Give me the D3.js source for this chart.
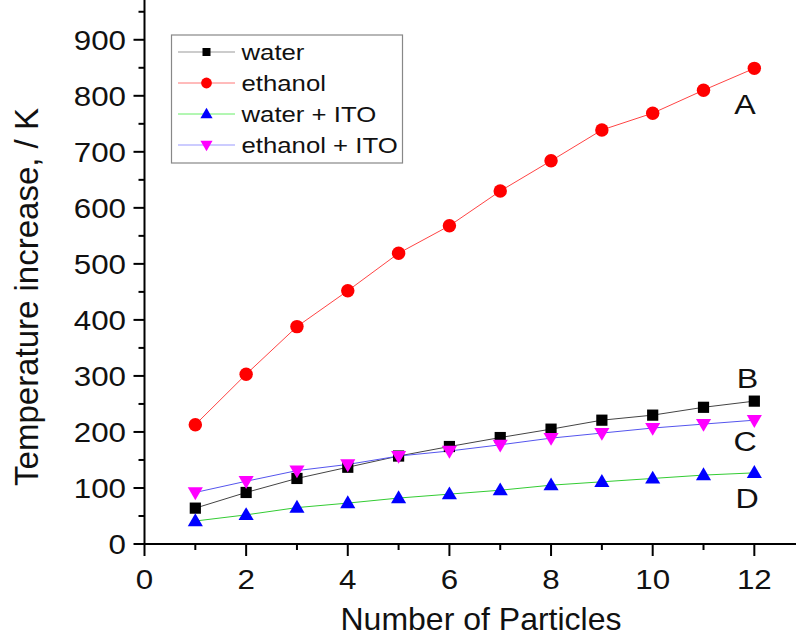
<!DOCTYPE html>
<html><head><meta charset="utf-8">
<script src="https://cdn.jsdelivr.net/npm/d3@7"></script>
<style>html,body{margin:0;padding:0;background:#fff;}svg{display:block;font-family:"Liberation Sans",Arial,sans-serif;}</style>
</head><body>
<script>
const particles = [1,2,3,4,5,6,7,8,9,10,11,12];
const water = [64,92,117,137,157,174,190,205,221,230,244,255];
const ethanol = [213,303,388,452,519,568,630,684,739,769,810,849];
const waterITO = [41,52,65,73,82,89,96,105,111,117,123,127];
const ethanolITO = [92,112,131,142,157,166,177,189,198,207,214,221];
const seriesNames = ["water","ethanol","water + ITO","ethanol + ITO"];
const curveLabels = ["A","B","C","D"];
const xTicks = [0,2,4,6,8,10,12];
const yTicks = [0,100,200,300,400,500,600,700,800,900];

const W=796,H=638;
const svg=d3.select("body").append("svg").attr("width",W).attr("height",H);
const x=d3.scaleLinear().domain([0,12.82]).range([144.5,796]);
const y=d3.scaleLinear().domain([0,971]).range([544,0]);

const series=[
 {name:seriesNames[0],vals:water,line:"#444",lline:"#999",fill:"#000",shape:"square"},
 {name:seriesNames[1],vals:ethanol,line:"#f44",lline:"#f77",fill:"#f00",shape:"circle"},
 {name:seriesNames[2],vals:waterITO,line:"#3c3",lline:"#6e6",fill:"#00f",shape:"up"},
 {name:seriesNames[3],vals:ethanolITO,line:"#55e",lline:"#99f",fill:"#f0f",shape:"down"}
];

function marker(g,shape,cx,cy,s,fill){
  if(shape==="square") g.append("rect").attr("x",cx-s/2).attr("y",cy-s/2).attr("width",s).attr("height",s).attr("fill",fill);
  else if(shape==="circle") g.append("circle").attr("cx",cx).attr("cy",cy).attr("r",s*0.6).attr("fill",fill);
  else if(shape==="up"){const h=s*1.15,w=s*1.35;g.append("path").attr("d",`M${cx},${cy-h*0.6}L${cx+w/2},${cy+h*0.4}L${cx-w/2},${cy+h*0.4}Z`).attr("fill",fill);}
  else {const h=s*1.15,w=s*1.35;g.append("path").attr("d",`M${cx},${cy+h*0.6}L${cx+w/2},${cy-h*0.4}L${cx-w/2},${cy-h*0.4}Z`).attr("fill",fill);}
}
function stext(g,tx,ty,sx,size,anchor,str){
  g.append("text").attr("transform",`translate(${tx},${ty}) scale(${sx},1)`)
   .attr("text-anchor",anchor).attr("dy","0.36em").attr("font-size",size).attr("fill","#111").text(str);
}

// lines
series.forEach(s=>{
  const line=d3.line().x((d,i)=>x(particles[i])).y(d=>y(d));
  svg.append("path").datum(s.vals).attr("d",line).attr("fill","none").attr("stroke",s.line).attr("stroke-width",1);
});
// markers
series.forEach(s=>{
  const g=svg.append("g");
  s.vals.forEach((v,i)=>marker(g,s.shape,x(particles[i]),y(v),11.2,s.fill));
});

// axes
const ax=svg.append("g");
ax.append("line").attr("x1",x(0)).attr("x2",W).attr("y1",y(0)).attr("y2",y(0)).attr("stroke","#000").attr("stroke-width",2);
ax.append("line").attr("x1",x(0)).attr("x2",x(0)).attr("y1",y(0)+1).attr("y2",0).attr("stroke","#000").attr("stroke-width",2);
d3.range(0,13).forEach(t=>{
  const major=t%2===0;
  ax.append("line").attr("x1",x(t)).attr("x2",x(t)).attr("y1",y(0)).attr("y2",y(0)+(major?12:6)).attr("stroke","#000").attr("stroke-width",2);
});
xTicks.forEach(t=>stext(ax,x(t),579.5,1.16,27,"middle",t));
d3.range(0,951,50).forEach(t=>{
  const major=t%100===0;
  ax.append("line").attr("x1",x(0)).attr("x2",x(0)-(major?11:6)).attr("y1",y(t)).attr("y2",y(t)).attr("stroke","#000").attr("stroke-width",2);
});
yTicks.forEach(t=>stext(ax,126,y(t),1.16,27,"end",t));

svg.append("text").attr("x",481).attr("y",630).attr("text-anchor","middle").attr("font-size",32).attr("fill","#111").text("Number of Particles");
svg.append("text").attr("transform","translate(38,297) rotate(-90)").attr("text-anchor","middle").attr("font-size",33).attr("fill","#111").text("Temperature increase, / K");

// curve labels
const lab=[[745,104],[747.5,378],[745,441],[747,498]];
curveLabels.forEach((c,i)=>stext(svg,lab[i][0],lab[i][1],1.15,28,"middle",c));

// legend
const lg=svg.append("g");
lg.append("rect").attr("x",171.5).attr("y",35).attr("width",231).attr("height",128).attr("fill","#fff").attr("stroke","#888").attr("stroke-width",1.2);
series.forEach((s,i)=>{
  const yy=52+i*31;
  lg.append("line").attr("x1",178).attr("x2",235).attr("y1",yy).attr("y2",yy).attr("stroke",s.lline).attr("stroke-width",1);
  marker(lg,s.shape,206.5,yy,s.shape==="square"?8:9,s.fill);
  stext(lg,241.5,yy,1.17,22,"start",s.name);
});
</script>
</body></html>
